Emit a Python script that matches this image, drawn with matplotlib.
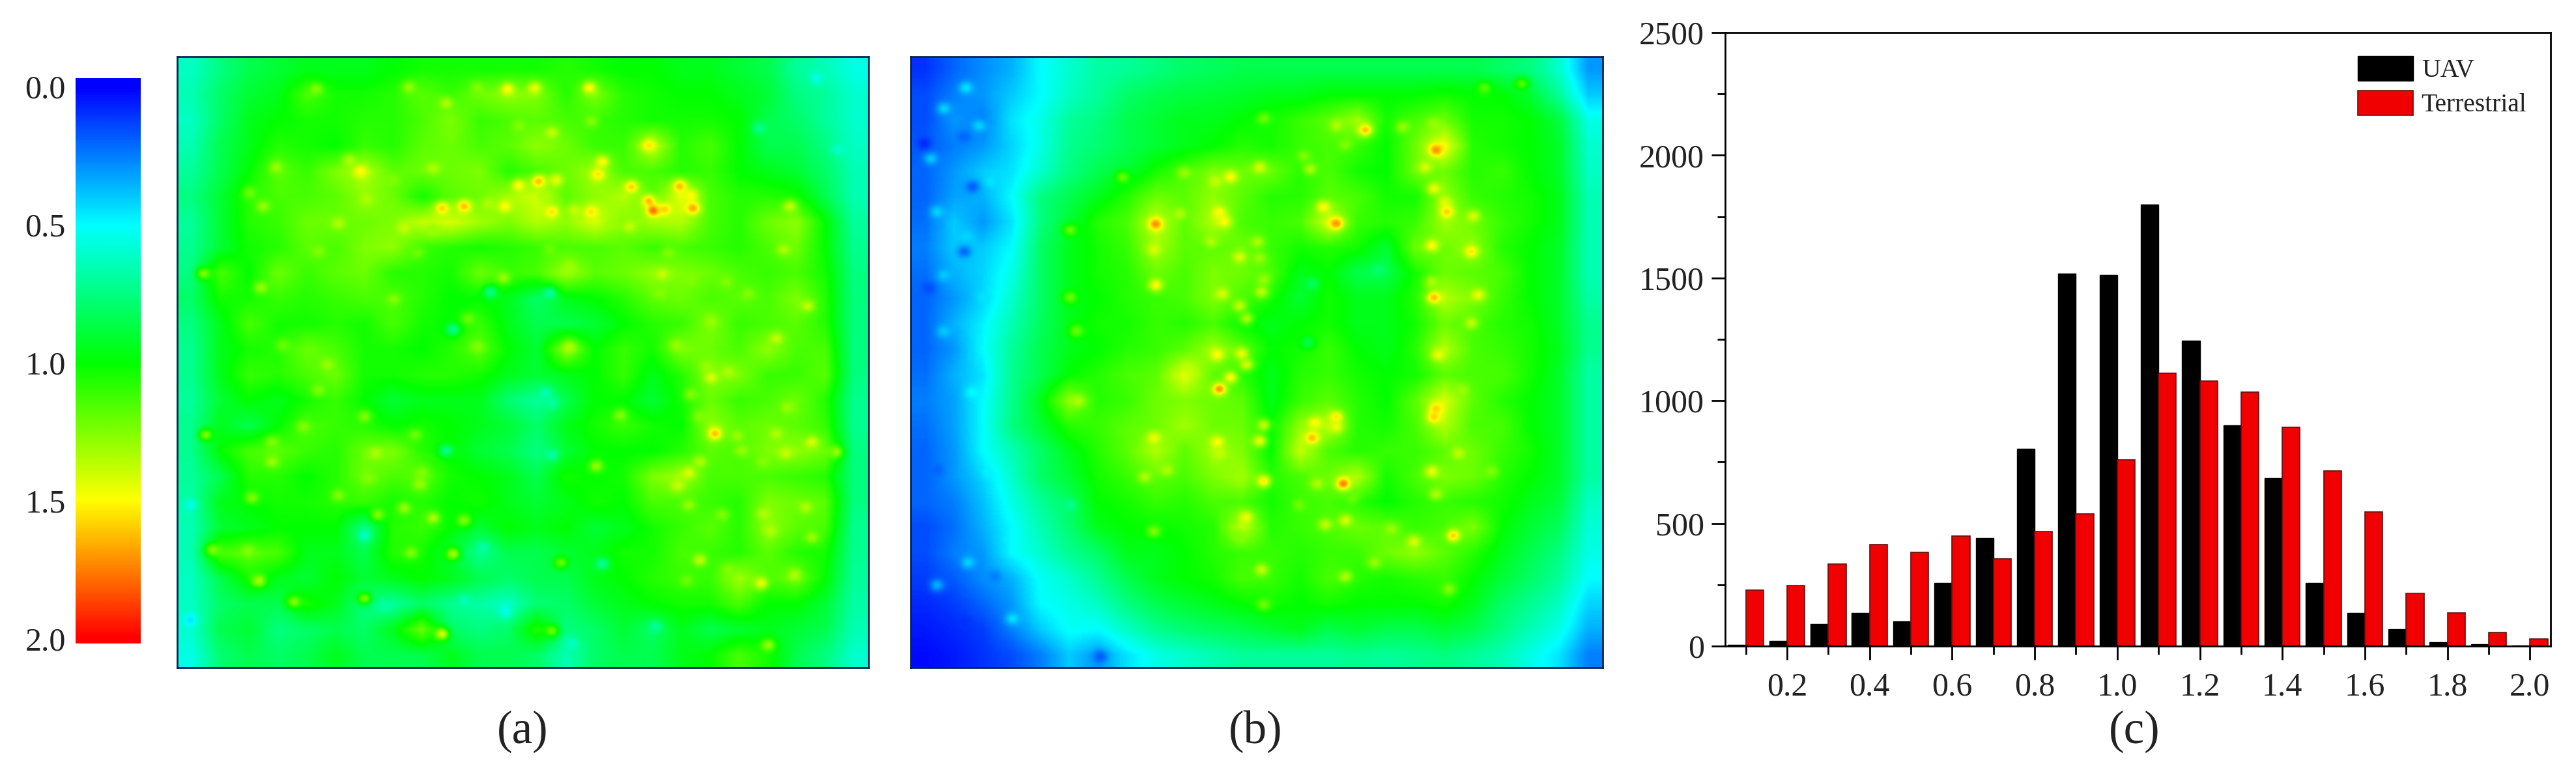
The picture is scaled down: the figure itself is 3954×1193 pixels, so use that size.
import numpy as np
import matplotlib
matplotlib.use('Agg')
import matplotlib.pyplot as plt
from matplotlib.colors import LinearSegmentedColormap

# Params
W, H = 3954, 1193
serif = 'Liberation Serif'
text_col = '#222222'
frame_col = '#0b2350'
field_size = 500   # samples per side of a map
speck_sigma = 3.5  # in field samples
base_gain = 0.7    # the peaks carry the fine detail, so soften the broad grid above 1
speck_gain = 0.85

# Histogram (c)
bin_x = [0.1, 0.2, 0.3, 0.4, 0.5, 0.6, 0.7, 0.8, 0.9, 1.0, 1.1, 1.2, 1.3, 1.4, 1.5, 1.6, 1.7, 1.8, 1.9, 2.0]
uav = [5, 20, 90, 135, 100, 258, 440, 805, 1518, 1512, 1800, 1245, 900, 685, 258, 135, 70, 15, 8, 3]
terrestrial = [228, 248, 335, 413, 382, 448, 355, 468, 538, 760, 1112, 1080, 1035, 893, 713, 548, 215, 135, 55, 30]
x_major = [0.2, 0.4, 0.6, 0.8, 1.0, 1.2, 1.4, 1.6, 1.8, 2.0]
x_minor = [0.1, 0.3, 0.5, 0.7, 0.9, 1.1, 1.3, 1.5, 1.7, 1.9]
y_major = [0, 500, 1000, 1500, 2000, 2500]
y_minor = [250, 750, 1250, 1750, 2250]

# Colour scale
scale_levels = [0.0, 0.5, 1.0, 1.5, 2.0]
scale_colors = ['#0000ff', '#00ffff', '#00ff00', '#ffff00', '#ff0000']
scale_ticks = ['0.0', '0.5', '1.0', '1.5', '2.0']

# Density map (a), broad values read by eye
map_a = [
    [.62, .75, .85, .90, .95, .95, .95, 1.0, 1.05, 1.05, 1.05, 1.05, 1.05, 1.1, 1.05, 1.0, 1.0, .95, .95, .90, .85, .70, .65, .55],
    [.65, .80, .90, .95, 1.2, 1.05, 1.05, 1.1, 1.25, 1.15, 1.3, 1.4, 1.35, 1.1, 1.35, 1.1, 1.05, 1.0, 1.0, .95, .90, .75, .70, .60],
    [.62, .80, .95, 1.0, 1.05, 1.05, 1.1, 1.1, 1.2, 1.35, 1.15, 1.2, 1.25, 1.2, 1.15, 1.1, 1.05, 1.05, 1.05, 1.0, .85, .80, .70, .60],
    [.65, .85, .95, 1.1, 1.05, 1.0, 1.15, 1.1, 1.25, 1.3, 1.2, 1.25, 1.4, 1.3, 1.15, 1.15, 1.55, 1.1, 1.2, 1.0, .85, .85, .75, .62],
    [.70, .85, 1.0, 1.25, 1.15, 1.35, 1.5, 1.25, 1.3, 1.3, 1.35, 1.1, 1.2, 1.3, 1.45, 1.2, 1.2, 1.1, 1.15, 1.0, .95, .90, .80, .65],
    [.75, .90, 1.1, 1.2, 1.2, 1.25, 1.4, 1.3, 1.05, 1.25, 1.3, 1.45, 1.6, 1.25, 1.4, 1.5, 1.25, 1.65, 1.2, 1.1, 1.1, 1.05, .85, .65],
    [.70, .90, 1.1, 1.15, 1.3, 1.3, 1.3, 1.35, 1.55, 1.6, 1.45, 1.35, 1.5, 1.4, 1.6, 1.35, 1.45, 1.5, 1.2, 1.1, 1.3, 1.4, 1.0, .70],
    [.72, .90, 1.05, 1.1, 1.25, 1.2, 1.35, 1.4, 1.15, 1.1, 1.05, 1.1, 1.15, 1.2, 1.2, 1.25, 1.15, 1.2, 1.15, 1.1, 1.2, 1.3, 1.0, .72],
    [.75, 1.2, 1.0, 1.3, 1.15, 1.25, 1.3, 1.1, 1.1, 1.05, 1.3, 1.15, 1.2, 1.45, 1.25, 1.3, 1.4, 1.35, 1.3, 1.2, 1.15, 1.2, 1.05, .75],
    [.80, 1.05, 1.05, 1.15, 1.1, 1.15, 1.2, 1.2, 1.1, 1.0, 1.0, .95, .80, .95, 1.0, 1.1, 1.25, 1.3, 1.2, 1.25, 1.2, 1.35, 1.1, .75],
    [.75, .95, 1.2, 1.05, 1.05, 1.1, 1.05, 1.2, 1.05, 1.0, 1.15, .95, .85, .85, .90, 1.0, 1.1, 1.15, 1.35, 1.15, 1.2, 1.25, 1.1, .75],
    [.72, .95, 1.05, 1.1, 1.3, 1.2, 1.05, 1.05, 1.0, 1.1, 1.25, 1.0, .90, 1.4, 1.0, 1.15, 1.05, 1.35, 1.3, 1.2, 1.4, 1.2, 1.2, .75],
    [.72, .95, 1.15, 1.1, 1.2, 1.3, 1.05, 1.05, 1.1, 1.1, 1.05, .95, .90, .95, 1.0, 1.15, .95, 1.1, 1.35, 1.35, 1.15, 1.15, 1.25, .75],
    [.70, .90, 1.0, .95, 1.05, 1.15, 1.0, .90, .95, .95, .95, .78, .70, .85, 1.0, 1.0, .90, 1.05, 1.3, 1.15, 1.2, 1.3, 1.1, .72],
    [.72, .95, .85, 1.0, 1.2, 1.15, 1.1, 1.0, 1.05, 1.0, .95, .90, .80, .95, 1.05, 1.15, 1.05, 1.0, 1.4, 1.25, 1.3, 1.25, 1.15, .72],
    [.72, 1.0, 1.2, 1.25, 1.15, 1.1, 1.3, 1.35, 1.1, 1.0, .90, .85, .75, .90, 1.0, 1.0, 1.0, 1.1, 1.25, 1.2, 1.35, 1.4, 1.3, .75],
    [.70, .85, 1.1, 1.1, 1.0, 1.1, 1.3, 1.2, 1.25, 1.05, 1.0, .95, .85, 1.05, 1.0, 1.05, 1.35, 1.45, 1.2, 1.2, 1.2, 1.15, 1.1, .75],
    [.68, .95, 1.0, 1.05, 1.05, 1.1, 1.15, 1.05, 1.1, 1.0, 1.05, .95, .90, .95, 1.05, 1.0, 1.2, 1.2, 1.15, 1.1, 1.35, 1.3, 1.25, .75],
    [.65, .90, .95, 1.0, 1.0, 1.0, .75, 1.1, 1.15, 1.0, .90, 1.0, .95, 1.0, .90, .95, 1.05, 1.15, 1.25, 1.1, 1.4, 1.25, 1.2, .72],
    [.65, 1.2, 1.25, 1.2, .95, .95, .85, 1.1, 1.05, .90, .72, .85, .85, .90, .95, 1.05, 1.05, 1.2, 1.15, 1.1, 1.25, 1.1, 1.05, .72],
    [.62, .85, 1.05, .95, .90, 1.0, .90, .95, 1.0, .95, .85, .80, .85, .85, .95, 1.0, 1.1, 1.15, 1.15, 1.45, 1.2, 1.3, 1.0, .70],
    [.62, .80, .85, .85, 1.05, .95, .75, .70, .80, .72, .68, .62, .78, .80, .90, .95, 1.0, 1.05, 1.05, 1.2, 1.0, 1.0, .90, .68],
    [.60, .85, .90, .75, .80, .85, .80, .95, 1.3, .80, .75, .80, 1.1, .75, .80, .90, .80, .95, .85, .90, .95, .90, .85, .65],
    [.55, .78, .85, .80, .85, .95, .85, .85, .85, .95, .85, .85, .80, .65, .80, .85, .85, .95, 1.0, 1.2, 1.05, .85, .75, .60],
]

# Density map (b), broad values read by eye
map_b = [
    [.10, .20, .28, .35, .50, .60, .68, .70, .75, .80, .82, .85, .85, .85, .85, .85, .85, .85, .85, .85, .80, .75, .60, .30],
    [.15, .25, .30, .40, .50, .62, .70, .80, .85, .88, .90, .92, .95, .95, 1.0, 1.0, 1.0, 1.0, 1.05, 1.0, 1.0, .90, .70, .40],
    [.15, .30, .25, .45, .55, .70, .75, .85, .90, .95, .95, 1.0, 1.05, 1.15, 1.25, 1.45, 1.05, 1.2, 1.3, 1.05, 1.05, 1.0, .88, .55],
    [.18, .25, .30, .42, .55, .72, .78, .85, .90, .95, 1.0, 1.1, 1.05, 1.15, 1.2, 1.15, 1.0, 1.3, 1.7, 1.1, 1.05, 1.0, .92, .60],
    [.20, .30, .40, .45, .60, .75, .85, .90, 1.05, 1.2, 1.35, 1.3, 1.3, 1.1, 1.2, 1.05, 1.0, 1.3, 1.3, 1.1, 1.15, 1.0, .92, .62],
    [.20, .32, .35, .50, .75, .85, .95, 1.1, 1.3, 1.25, 1.4, 1.25, 1.1, 1.1, 1.25, 1.2, 1.05, 1.05, 1.4, 1.15, 1.1, 1.05, .95, .65],
    [.22, .40, .30, .45, .75, .90, 1.1, 1.2, 1.55, 1.25, 1.5, 1.2, 1.15, 1.2, 1.6, 1.15, 1.1, 1.15, 1.45, 1.3, 1.15, 1.05, .95, .65],
    [.25, .40, .40, .50, .80, .95, 1.05, 1.15, 1.45, 1.25, 1.25, 1.3, 1.15, 1.05, 1.1, 1.05, .90, 1.3, 1.3, 1.4, 1.1, 1.0, .92, .65],
    [.22, .35, .42, .55, .80, .95, 1.05, 1.1, 1.3, 1.2, 1.35, 1.3, 1.2, .95, 1.0, .85, .85, 1.05, 1.3, 1.25, 1.2, 1.0, .92, .65],
    [.20, .30, .42, .60, .80, .95, 1.0, 1.1, 1.15, 1.2, 1.35, 1.2, 1.05, .90, 1.05, .95, .95, 1.1, 1.5, 1.35, 1.15, 1.0, .92, .68],
    [.20, .35, .48, .65, .82, .95, 1.05, 1.05, 1.15, 1.1, 1.2, 1.0, .95, 1.0, 1.05, .95, .95, 1.05, 1.3, 1.2, 1.1, 1.05, .92, .72],
    [.20, .30, .50, .70, .85, .95, 1.0, 1.1, 1.15, 1.25, 1.45, 1.25, 1.0, 1.05, 1.15, 1.0, .95, 1.1, 1.5, 1.2, 1.15, 1.05, .95, .72],
    [.22, .35, .45, .72, .85, 1.0, 1.1, 1.2, 1.25, 1.65, 1.25, 1.1, .95, 1.1, 1.15, 1.05, 1.0, 1.05, 1.25, 1.2, 1.2, 1.05, .92, .68],
    [.25, .32, .50, .72, .95, 1.4, 1.1, 1.15, 1.3, 1.35, 1.3, 1.25, .95, 1.15, 1.25, 1.1, 1.0, 1.25, 1.6, 1.25, 1.1, 1.0, .92, .68],
    [.22, .32, .50, .75, .90, 1.1, 1.15, 1.25, 1.3, 1.45, 1.3, 1.3, 1.0, 1.4, 1.5, 1.1, 1.05, 1.2, 1.5, 1.2, 1.2, 1.0, .92, .68],
    [.20, .30, .50, .65, .80, .95, 1.1, 1.25, 1.5, 1.25, 1.45, 1.35, 1.0, 1.55, 1.2, 1.1, 1.15, 1.15, 1.25, 1.3, 1.15, 1.05, .92, .68],
    [.20, .30, .42, .60, .80, .90, 1.05, 1.15, 1.25, 1.2, 1.35, 1.45, 1.1, 1.2, 1.3, 1.5, 1.05, 1.2, 1.35, 1.3, 1.1, 1.0, .92, .68],
    [.20, .25, .38, .55, .70, .82, 1.0, 1.05, 1.15, 1.1, 1.2, 1.2, 1.05, 1.15, 1.2, 1.1, 1.0, 1.1, 1.15, 1.1, 1.05, .95, .88, .62],
    [.15, .22, .35, .50, .65, .78, .95, 1.0, 1.0, 1.05, 1.1, 1.55, 1.1, 1.15, 1.2, 1.3, 1.25, 1.15, 1.2, 1.35, 1.0, .90, .82, .58],
    [.15, .25, .30, .50, .60, .72, .80, .95, .95, 1.0, 1.1, 1.15, 1.15, 1.1, 1.15, 1.15, 1.3, 1.4, 1.25, 1.1, .95, .85, .75, .55],
    [.12, .18, .28, .35, .52, .60, .72, .85, .95, 1.0, 1.05, 1.2, 1.15, 1.05, 1.2, 1.1, 1.05, 1.1, 1.15, 1.0, .90, .80, .70, .50],
    [.08, .12, .20, .30, .50, .55, .62, .75, .85, .90, .95, 1.0, 1.05, 1.0, 1.05, 1.0, 1.0, 1.0, 1.05, .95, .80, .72, .62, .42],
    [.05, .08, .12, .25, .40, .52, .50, .62, .72, .78, .82, .85, .90, .95, .85, .90, .85, .85, .90, .85, .75, .65, .55, .35],
    [.02, .05, .10, .15, .25, .40, .30, .45, .55, .60, .65, .70, .70, .70, .70, .72, .70, .72, .75, .70, .65, .55, .45, .25],
]

# Local peaks and dips read by eye: column and row in thousandths of the map, value
specks_a = [
    (201, 53, 1.3), (335, 50, 1.35), (478, 53, 1.6), (517, 51, 1.55), (596, 51, 1.6), (389, 76, 1.4), (434, 51, 1.3),
    (542, 124, 1.45), (494, 113, 1.3), (599, 106, 1.3), (682, 145, 1.65), (249, 170, 1.4), (265, 188, 1.6), (143, 181, 1.35),
    (370, 183, 1.4), (312, 202, 1.3), (615, 172, 1.6), (609, 193, 1.65), (523, 204, 1.75), (548, 202, 1.55), (494, 211, 1.6),
    (657, 213, 1.7), (727, 212, 1.75), (743, 227, 1.6), (682, 236, 1.75), (689, 252, 1.95), (705, 250, 1.7), (746, 248, 1.8),
    (383, 248, 1.7), (415, 245, 1.75), (450, 241, 1.4), (474, 245, 1.6), (542, 254, 1.65), (574, 252, 1.45), (599, 254, 1.65),
    (886, 245, 1.45), (529, 227, 1.4), (274, 234, 1.4), (124, 245, 1.35), (328, 280, 1.45), (370, 284, 1.35), (233, 273, 1.4),
    (654, 278, 1.45), (631, 273, 1.35), (105, 223, 1.25), (121, 378, 1.35), (568, 344, 1.35), (472, 362, 1.35), (702, 356, 1.45),
    (743, 365, 1.3), (794, 369, 1.3), (877, 316, 1.4), (38, 355, 1.3), (912, 408, 1.45), (826, 388, 1.3), (698, 387, 1.3),
    (313, 397, 1.3), (867, 461, 1.45), (568, 475, 1.4), (721, 472, 1.35), (434, 475, 1.3), (153, 472, 1.25), (772, 433, 1.35),
    (421, 429, 1.25), (539, 316, 1.25), (711, 321, 1.3), (348, 321, 1.25), (204, 319, 1.3),
    (453, 385, .72), (539, 387, .68), (399, 447, .72), (842, 117, .72), (925, 35, .55), (957, 152, .60),
    (778, 617, 1.75), (772, 525, 1.5), (797, 516, 1.4), (743, 553, 1.3), (765, 507, 1.35), (756, 589, 1.3), (883, 574, 1.35),
    (810, 621, 1.35), (867, 617, 1.4), (918, 631, 1.5), (880, 649, 1.45), (953, 647, 1.35), (816, 645, 1.35), (848, 663, 1.3),
    (756, 663, 1.4), (740, 681, 1.5), (724, 702, 1.45), (740, 734, 1.35), (788, 750, 1.3), (848, 748, 1.4), (858, 777, 1.4),
    (909, 738, 1.4), (918, 787, 1.35), (756, 824, 1.45), (893, 848, 1.4), (845, 862, 1.55), (797, 840, 1.3), (737, 858, 1.25),
    (641, 587, 1.3), (204, 546, 1.3), (271, 589, 1.3), (182, 606, 1.3), (41, 619, 1.3), (137, 631, 1.3), (137, 663, 1.35),
    (287, 649, 1.4), (344, 619, 1.25), (606, 670, 1.35), (354, 681, 1.3), (351, 700, 1.35), (277, 690, 1.3), (233, 718, 1.3),
    (108, 722, 1.3), (328, 739, 1.35), (370, 755, 1.4), (290, 750, 1.3), (415, 759, 1.3), (51, 807, 1.3), (102, 809, 1.3),
    (399, 814, 1.4), (338, 812, 1.3), (118, 858, 1.4), (169, 892, 1.3), (271, 887, 1.3), (383, 945, 1.5), (855, 963, 1.35),
    (542, 940, 1.25), (555, 828, 1.25), (217, 504, 1.35),
    (533, 550, .65), (542, 567, .68), (389, 645, .72), (271, 784, .62), (443, 803, .68), (475, 908, .55), (415, 890, .65),
    (571, 961, .62), (300, 901, .68), (19, 734, .55), (19, 922, .45), (542, 652, .68), (615, 830, .70), (692, 933, .70),
]
specks_b = [
    (657, 120, 1.75), (759, 153, 1.85), (615, 113, 1.4), (711, 115, 1.35), (756, 110, 1.35), (743, 181, 1.5), (504, 181, 1.5),
    (462, 197, 1.6), (440, 204, 1.45), (395, 190, 1.35), (577, 184, 1.4), (568, 163, 1.3), (756, 216, 1.55), (772, 238, 1.5),
    (775, 254, 1.7), (596, 246, 1.6), (615, 273, 1.85), (354, 274, 1.85), (446, 255, 1.6), (453, 270, 1.6), (389, 257, 1.4),
    (813, 261, 1.5), (753, 309, 1.6), (810, 319, 1.65), (351, 316, 1.5), (475, 328, 1.5), (504, 330, 1.35), (434, 303, 1.4),
    (501, 303, 1.4), (354, 374, 1.6), (450, 388, 1.5), (507, 385, 1.45), (510, 365, 1.35), (756, 394, 1.75), (820, 390, 1.55),
    (753, 369, 1.4), (810, 436, 1.45), (485, 429, 1.4), (475, 408, 1.45), (478, 486, 1.55), (443, 488, 1.6), (762, 488, 1.55),
    (239, 449, 1.25), (230, 284, 1.25), (230, 394, 1.25), (628, 144, 1.3), (829, 51, 1.2), (883, 44, 1.2), (510, 101, 1.25),
    (306, 197, 1.25), (676, 349, .78), (580, 372, .82), (574, 468, .85),
    (80, 51, .45), (48, 85, .42), (99, 113, .42), (115, 204, .45), (29, 167, .40), (38, 254, .42), (80, 294, .42), (48, 358, .40),
    (105, 394, .45), (48, 450, .40), (89, 213, .18), (77, 131, .20), (19, 142, .08), (77, 319, .20), (26, 379, .15),
    (446, 544, 1.85), (462, 525, 1.6), (402, 512, 1.45), (485, 504, 1.5), (242, 564, 1.4), (759, 576, 1.7), (756, 590, 1.7),
    (797, 546, 1.35), (615, 590, 1.65), (584, 599, 1.6), (580, 624, 1.75), (615, 606, 1.55), (510, 603, 1.45), (443, 631, 1.6),
    (504, 629, 1.55), (351, 624, 1.55), (446, 649, 1.45), (791, 649, 1.45), (753, 679, 1.55), (510, 695, 1.65), (625, 699, 1.9),
    (338, 688, 1.4), (370, 677, 1.4), (475, 691, 1.35), (587, 699, 1.4), (759, 716, 1.4), (485, 754, 1.55), (628, 759, 1.5),
    (599, 766, 1.45), (695, 773, 1.35), (727, 794, 1.5), (784, 784, 1.7), (351, 777, 1.3), (475, 784, 1.3), (507, 840, 1.45),
    (670, 828, 1.35), (628, 851, 1.4), (778, 872, 1.3), (510, 897, 1.25), (839, 679, 1.3), (561, 734, 1.25), (638, 723, 1.25),
    (230, 734, .72), (89, 550, .50), (112, 681, .48), (147, 920, .45), (274, 982, .18), (83, 828, .42), (38, 865, .35),
    (121, 851, .25), (38, 677, .20), (77, 925, .10),
]

plt.rcParams['font.family'] = [serif, 'DejaVu Serif']
cmap = LinearSegmentedColormap.from_list('scale', list(zip([v / 2.0 for v in scale_levels], scale_colors)))


# Axes placed by pixel box of the reference
def add_box(fig, left, top, right, bottom):
    return fig.add_axes([left / W, 1 - bottom / H, (right - left) / W, (bottom - top) / H])


# Resample the coarse grid, then pull the field to each read value around its position
def build_field(grid, specks):
    grid = np.array(grid)
    grid = np.where(grid > 1, 1 + (grid - 1) * base_gain, grid)
    n_rows, n_cols = grid.shape
    pos = (np.arange(field_size) + 0.5) / field_size
    rows = np.array([np.interp(pos, (np.arange(n_cols) + 0.5) / n_cols, r) for r in grid])
    field = np.array([np.interp(pos, (np.arange(n_rows) + 0.5) / n_rows, c) for c in rows.T]).T
    xx, yy = np.meshgrid(pos, pos)
    for sx, sy, val in specks:
        if val > 1:
            val = 1 + (val - 1) * speck_gain
        d2 = ((xx - sx / 1000.0) ** 2 + (yy - sy / 1000.0) ** 2) * field_size ** 2
        w = np.exp(-d2 / (2 * speck_sigma ** 2))
        field = field + (val - field) * w
    return field


fig = plt.figure(figsize=(W / 100, H / 100), dpi=100)

# Colour bar
cax = add_box(fig, 116, 120, 216, 988)
ramp = np.linspace(-0.03, 2.016, 500).reshape(-1, 1)
cax.imshow(ramp, cmap=cmap, vmin=0, vmax=2, aspect='auto', extent=[0, 1, 2.016, -0.03])
cax.set_xticks([])
cax.set_yticks(scale_levels)
cax.set_yticklabels(scale_ticks, fontsize=36, color=text_col)
cax.tick_params(axis='y', length=0, pad=11)
for s in cax.spines.values():
    s.set_visible(False)

# Maps
for data, specks, box, name, lx in [(map_a, specks_a, (272, 87, 1333, 1025), '(a)', 802),
                                    (map_b, specks_b, (1398, 87, 2460, 1025), '(b)', 1927)]:
    ax = add_box(fig, *box)
    ax.imshow(build_field(data, specks), cmap=cmap, vmin=0, vmax=2, aspect='auto', interpolation='bicubic')
    ax.set_xticks([])
    ax.set_yticks([])
    for s in ax.spines.values():
        s.set_color(frame_col)
        s.set_linewidth(2)
    fig.text(lx / W, 1 - 1123 / H, name, ha='center', va='center', fontsize=51, color=text_col)

# Histogram
ax = add_box(fig, 2648, 50, 3915, 992)
bw = 0.043
ax.bar(bin_x, uav, width=-bw, align='edge', color='black', edgecolor='black', linewidth=1, label='UAV')
ax.bar(bin_x, terrestrial, width=bw, align='edge', color='#f00000', edgecolor='#661010', linewidth=1.2, label='Terrestrial')
ax.set_xlim(0.05, 2.05)
ax.set_ylim(0, 2500)
ax.set_xticks(x_major)
ax.set_xticklabels(['%.1f' % v for v in x_major])
ax.set_xticks(x_minor, minor=True)
ax.set_yticks(y_major)
ax.set_yticks(y_minor, minor=True)
ax.tick_params(axis='both', which='major', length=15, width=2, labelsize=36, labelcolor=text_col)
ax.tick_params(axis='both', which='minor', length=9, width=2)
ax.tick_params(axis='x', which='major', pad=14)
ax.tick_params(axis='y', which='major', pad=8)
for s in ax.spines.values():
    s.set_linewidth(2)
ax.legend(loc='upper left', bbox_to_anchor=(0.766, 0.962), frameon=False, fontsize=28.5,
          borderpad=0, borderaxespad=0, handlelength=2.15, handleheight=1.12,
          labelspacing=0.28, handletextpad=0.33, labelcolor=text_col)
fig.text(3276 / W, 1 - 1123 / H, '(c)', ha='center', va='center', fontsize=51, color=text_col)

fig.savefig('out.png', dpi=100)
